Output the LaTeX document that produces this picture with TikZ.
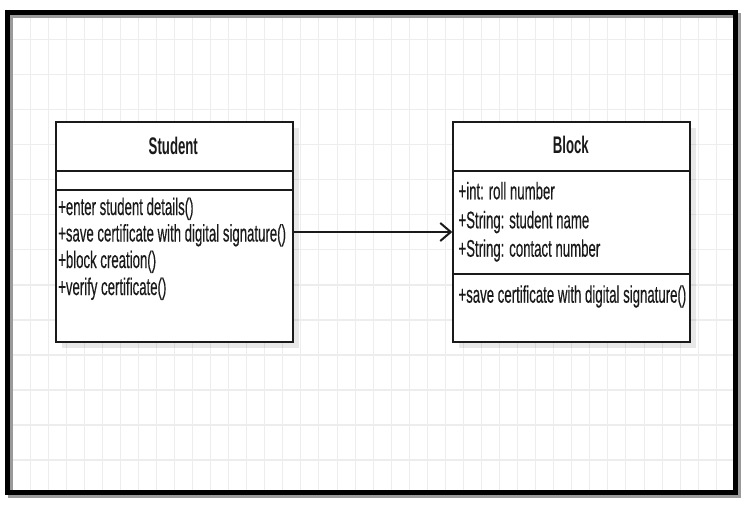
\documentclass[tikz,border=0pt]{standalone}
\usepackage{fontspec}
\setmainfont{Liberation Sans}
\newfontfamily\memberfont{Liberation Sans}[FakeBold=0.5]
\usepackage{graphicx}
\usetikzlibrary{arrows.meta,shadows}
\definecolor{gridc}{HTML}{EDEDED}
\definecolor{linec}{HTML}{1A1A1A}
\definecolor{framesh}{HTML}{9A9A9A}
\newcommand{\myxs}[1]{\scalebox{0.55}[1]{#1}}
\begin{document}
\begin{tikzpicture}[x=1pt,y=-1pt,
  umlbox/.style={draw=linec, line width=2pt, fill=white, minimum width=236.7pt, minimum height=220pt, inner sep=0pt, anchor=north west,
    drop shadow={shadow xshift=6pt, shadow yshift=-6pt, fill=black, opacity=0.09}},
  divider/.style={draw=linec, line width=2pt},
  member/.style={anchor=base west, inner sep=0pt, text=linec, font=\memberfont\fontsize{24}{28}\selectfont},
  umltitle/.style={anchor=base, inner sep=0pt, text=linec, font=\fontsize{24}{28}\selectfont\bfseries},
  gridline/.style={draw=gridc, line width=1pt},
  assoc/.style={draw=linec, line width=2pt, -{Straight Barb[length=10.5pt,width=18pt,line width=2pt]}},
]
\useasboundingbox (0,0) rectangle (752,506);
\fill[white] (0,0) rectangle (752,506);
% grid
\foreach \i in {0,...,38} \draw[gridline] ({30+18.06*\i},15) -- ({30+18.06*\i},490);
\foreach \j in {0,...,12} \draw[gridline, line width=1.5pt] (9,{39.3+35.07*\j}) -- (733,{39.3+35.07*\j});
% frame with shadow
\draw[framesh, line width=5pt] (10,15.5) rectangle (738.5,495.5);
\draw[black, line width=5pt] (7,12.5) rectangle (735.5,492.5);
% class boxes
\node[umlbox] (student) at (55,121) {};
\node[umlbox] (block) at (452.3,121) {};
% dividers
\draw[divider] (student.west |- 0,170.7) -- (student.east |- 0,170.7);
\draw[divider] (student.west |- 0,190) -- (student.east |- 0,190);
\draw[divider] (block.west |- 0,170.7) -- (block.east |- 0,170.7);
\draw[divider] (block.west |- 0,274.3) -- (block.east |- 0,274.3);
% texts
\node[umltitle] (stitle) at (173.3,154) {\myxs{Student}};
\node[member] (s1) at (58,215) {\myxs{+enter student details()}};
\node[member] (s2) at (58,241.5) {\myxs{+save certificate with digital signature()}};
\node[member] (s3) at (58,268) {\myxs{+block creation()}};
\node[member] (s4) at (58,295) {\myxs{+verify certificate()}};
\node[umltitle] (btitle) at (570.8,153.3) {\myxs{Block}};
\node[member] (b1) at (458.3,199.3) {\myxs{+int: roll number}};
\node[member] (b2) at (458.3,228.3) {\myxs{+String: student name}};
\node[member] (b3) at (458.3,256.7) {\myxs{+String: contact number}};
\node[member] (b4) at (458.3,302.7) {\myxs{+save certificate with digital signature()}};
% association
\draw[assoc] (student.east) -- (block.west);
\end{tikzpicture}
\end{document}
